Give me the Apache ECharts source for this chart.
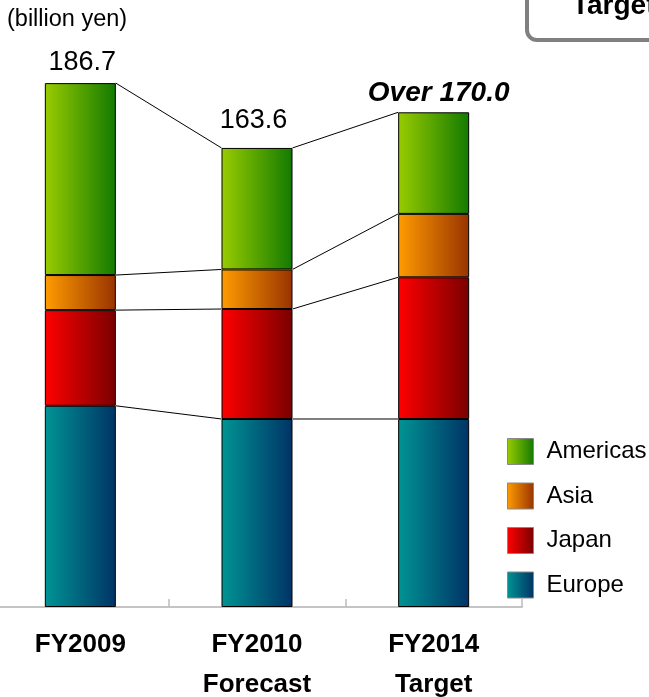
<!DOCTYPE html>
<html>
<head>
<meta charset="utf-8">
<script src="https://cdn.jsdelivr.net/npm/echarts@6/dist/echarts.min.js"></script>
<style>
  html, body { margin: 0; padding: 0; background: #fff; }
</style>
</head>
<body>
<div id="salesChart" style="width: 649px;height: 697px;"></div>
<script>
// data (billion yen)
const categories = ['FY2009', 'FY2010\nForecast', 'FY2014\nTarget'];
const europe = [71.7, 67.0, 67.0];
const japan = [34.1, 39.2, 50.5];
const asia = [12.5, 14.1, 22.6];
const americas = [68.4, 43.3, 36.2];
const totalLabels = ['186.7', '163.6', 'Over 170.0'];
const legendNames = ['Americas', 'Asia', 'Japan', 'Europe'];

const FONT = 'Liberation Sans, Arial, sans-serif';
const BAR_W = 71;

function grad(c1, c2) {
  return {
    type: 'linear', x: 0, y: 0, x2: 1, y2: 0,
    colorStops: [{offset: 0, color: c1}, {offset: 1, color: c2}]
  };
}

// cumulative tops of each stack level, used for the connector lines
const levels = [europe, japan, asia, americas];
const cum = [];
let run = [0, 0, 0];
levels.forEach(function (arr) {
  run = run.map(function (v, i) { return v + arr[i]; });
  cum.push(run.slice());
});
const links = [];
for (let i = 0; i < categories.length - 1; i++) {
  cum.forEach(function (lv) {
    links.push([i, lv[i], lv[i + 1]]);
  });
}

// label tweaks per bar (distance above bar / small x shift)
const labelDist = [7, 14, 5];
const labelShift = [2, -3.5, 5];

const americasData = americas.map(function (v, i) {
  return {
    value: v,
    label: {
      show: true,
      position: 'top',
      distance: labelDist[i],
      offset: [labelShift[i], 0],
      formatter: totalLabels[i],
      color: '#000',
      fontFamily: FONT,
      fontSize: i === 2 ? 28 : 27,
      fontWeight: i === 2 ? 'bold' : 'normal',
      fontStyle: i === 2 ? 'italic' : 'normal'
    }
  };
});

const barBorder = {borderColor: '#000', borderWidth: 1};

let option = {
  animation: false,
  backgroundColor: '#fff',
  grid: {left: -8, right: 127, top: 45.8, bottom: 90, outerBoundsMode: 'none', containLabel: false},
  xAxis: {
    type: 'category',
    data: categories,
    axisLine: {lineStyle: {color: '#c4c4c4', width: 2}},
    axisTick: {show: true, inside: true, length: 8, lineStyle: {color: '#bcbcbc', width: 1.5}},
    axisLabel: {
      margin: 18,
      color: '#000',
      fontFamily: FONT,
      fontSize: 26,
      fontWeight: 'bold',
      lineHeight: 40
    }
  },
  yAxis: {type: 'value', min: 0, max: 200, show: false},
  legend: {
    data: legendNames,
    orient: 'vertical',
    left: 507,
    top: 438,
    padding: 0,
    itemWidth: 26,
    itemHeight: 26,
    itemGap: 17.5,
    icon: 'rect',
    selectedMode: false,
    itemStyle: {borderColor: '#888', borderWidth: 1},
    textStyle: {color: '#000', fontFamily: FONT, fontSize: 24, padding: [0, 0, 0, 8]}
  },
  graphic: [
    {
      type: 'rect',
      shape: {x: 527, y: -30, width: 200, height: 70, r: 10},
      style: {fill: '#fff', stroke: '#808080', lineWidth: 4}
    },
    {
      type: 'text',
      x: 572,
      y: -8,
      style: {text: 'Target', fill: '#000', font: 'bold 28px ' + FONT, textVerticalAlign: 'top'}
    },
    {
      type: 'text',
      x: 7,
      y: 8,
      style: {text: '(billion yen)', fill: '#000', font: '23.5px ' + FONT, textVerticalAlign: 'top'}
    }
  ],
  series: [
    {name: 'Europe', type: 'bar', stack: 'total', barWidth: BAR_W, data: europe,
      itemStyle: Object.assign({color: grad('#009494', '#003366')}, barBorder)},
    {name: 'Japan', type: 'bar', stack: 'total', barWidth: BAR_W, data: japan,
      itemStyle: Object.assign({color: grad('#ff0000', '#7a0000')}, barBorder)},
    {name: 'Asia', type: 'bar', stack: 'total', barWidth: BAR_W, data: asia,
      itemStyle: Object.assign({color: grad('#ff9c00', '#993300')}, barBorder)},
    {name: 'Americas', type: 'bar', stack: 'total', barWidth: BAR_W, data: americasData,
      itemStyle: Object.assign({color: grad('#99cc00', '#137a00')}, barBorder)},
    {
      type: 'custom',
      silent: true,
      data: links,
      encode: {x: 0, y: 1},
      renderItem: function (params, api) {
        const a = api.coord([api.value(0), api.value(1)]);
        const b = api.coord([api.value(0) + 1, api.value(2)]);
        return {
          type: 'line',
          shape: {x1: a[0] + BAR_W / 2, y1: a[1], x2: b[0] - BAR_W / 2, y2: b[1]},
          style: {stroke: '#000', lineWidth: 1}
        };
      }
    }
  ]
};

const salesChart = echarts.init(document.getElementById('salesChart'));
salesChart.setOption(option);
</script>
</body>
</html>
